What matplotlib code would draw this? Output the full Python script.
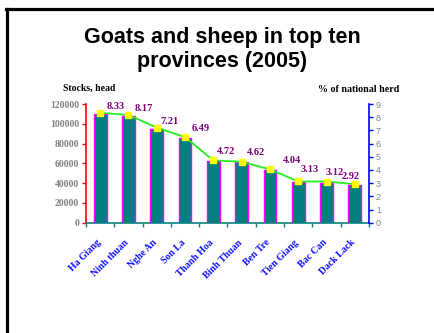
import matplotlib
matplotlib.use("Agg")
import matplotlib.pyplot as plt
from matplotlib.lines import Line2D
from matplotlib.transforms import ScaledTranslation

provinces = ["Ha Giang", "Ninh thuan", "Nghe An", "Son La", "Thanh Hoa",
             "Binh Thuan", "Ben Tre", "Tien Giang", "Bac Can", "Dack Lack"]
stocks = [109800, 107900, 94700, 85300, 62000, 61400, 53300, 41100, 40400, 38400]
share = [8.33, 8.17, 7.21, 6.49, 4.72, 4.62, 4.04, 3.13, 3.12, 2.92]
left_ticks = [0, 20000, 40000, 60000, 80000, 100000, 120000]
right_ticks = list(range(0, 10))

# label placement offsets (pixels) for the percentage labels
label_dx = [6, 6.5, 4, 7, 4, 5, 13, 2, -1, -13]
label_dy = [6, 6, 6, 9, 9, 9, 9, 12, 9, 8]

W, H = 435, 333
fig = plt.figure(figsize=(W / 100, H / 100), dpi=100)
fig.patch.set_facecolor("white")

# slide frame (top and left edges)
fig.add_artist(Line2D([6 / W, 1.0], [1 - 9 / H, 1 - 9 / H], color="black", lw=2.3,
                      transform=fig.transFigure, solid_capstyle="projecting"))
fig.add_artist(Line2D([7 / W, 7 / W], [1 - 9 / H, 0.0], color="black", lw=2.3,
                      transform=fig.transFigure, solid_capstyle="projecting"))

fig.text(222 / W, 1 - 38 / H, "Goats and sheep in top ten",
         ha="center", va="center", fontsize=15.5, fontweight="bold",
         family="Liberation Sans")
fig.text(222 / W, 1 - 62 / H, "provinces (2005)",
         ha="center", va="center", fontsize=15.5, fontweight="bold",
         family="Liberation Sans")

ax = fig.add_axes([86 / W, 110.3 / H, 283 / W, 118.7 / H])
x = list(range(len(provinces)))
ax.bar(x, stocks, width=0.45, color="#007F7F", edgecolor="#FF00FF", linewidth=1.0, zorder=2)
ax.set_xlim(-0.5, len(provinces) - 0.5)
ax.set_ylim(0, 120000)
ax.set_yticks(left_ticks)
ax.set_yticklabels([str(v) for v in left_ticks], family="Liberation Serif",
                   fontweight="bold", fontsize=7, color="#808080")
ax.tick_params(axis="y", colors="red", length=3, width=1, labelcolor="#808080", pad=2)
ax.set_xticks(x)
ax.set_xticklabels(provinces, rotation=45, ha="right", va="top", rotation_mode="anchor",
                   family="Liberation Serif", fontweight="bold", fontsize=7, color="#1010FF")
ax.tick_params(axis="x", length=0, pad=11)
shift = ScaledTranslation(-4 / 100, 0, fig.dpi_scale_trans)
for lab in ax.get_xticklabels():
    lab.set_transform(lab.get_transform() + shift)
ax.set_xticks([i - 0.5 for i in range(len(provinces) + 1)], minor=True)
ax.tick_params(axis="x", which="minor", length=3, width=1, colors="#108080")
ax.spines["left"].set_color("red")
ax.spines["left"].set_linewidth(1.2)
ax.spines["bottom"].set_color("#108080")
ax.spines["bottom"].set_linewidth(1.2)
ax.spines["top"].set_visible(False)
ax.spines["right"].set_visible(False)

ax2 = ax.twinx()
ax2.set_ylim(0, 9)
ax2.set_yticks(right_ticks)
ax2.set_yticklabels([str(v) for v in right_ticks], family="Liberation Sans",
                    fontsize=6.5, color="#808080")
ax2.tick_params(axis="y", colors="blue", length=3, width=1, labelcolor="#808080", pad=2)
ax2.spines["right"].set_color("blue")
ax2.spines["right"].set_linewidth(1.2)
for s in ("left", "top", "bottom"):
    ax2.spines[s].set_visible(False)
ax2.plot(x, share, color="#22EE22", lw=1.3, marker="s", markersize=5,
         markerfacecolor="#FFFF00", markeredgecolor="#FFFF00", zorder=3)

for i, v in enumerate(share):
    ax2.annotate(f"{v:.2f}", (i, v), xytext=(label_dx[i], label_dy[i]),
                 textcoords="offset pixels",
                 ha="left", va="center", family="Liberation Serif", fontweight="bold",
                 fontsize=7.5, color="#800080")

fig.text(89 / W, 1 - 88 / H, "Stocks, head", ha="center", va="center",
         family="Liberation Serif", fontweight="bold", fontsize=7)
fig.text(359 / W, 1 - 90 / H, "% of national herd", ha="center", va="center",
         family="Liberation Serif", fontweight="bold", fontsize=7.2)

fig.savefig("out.png", dpi=100)
